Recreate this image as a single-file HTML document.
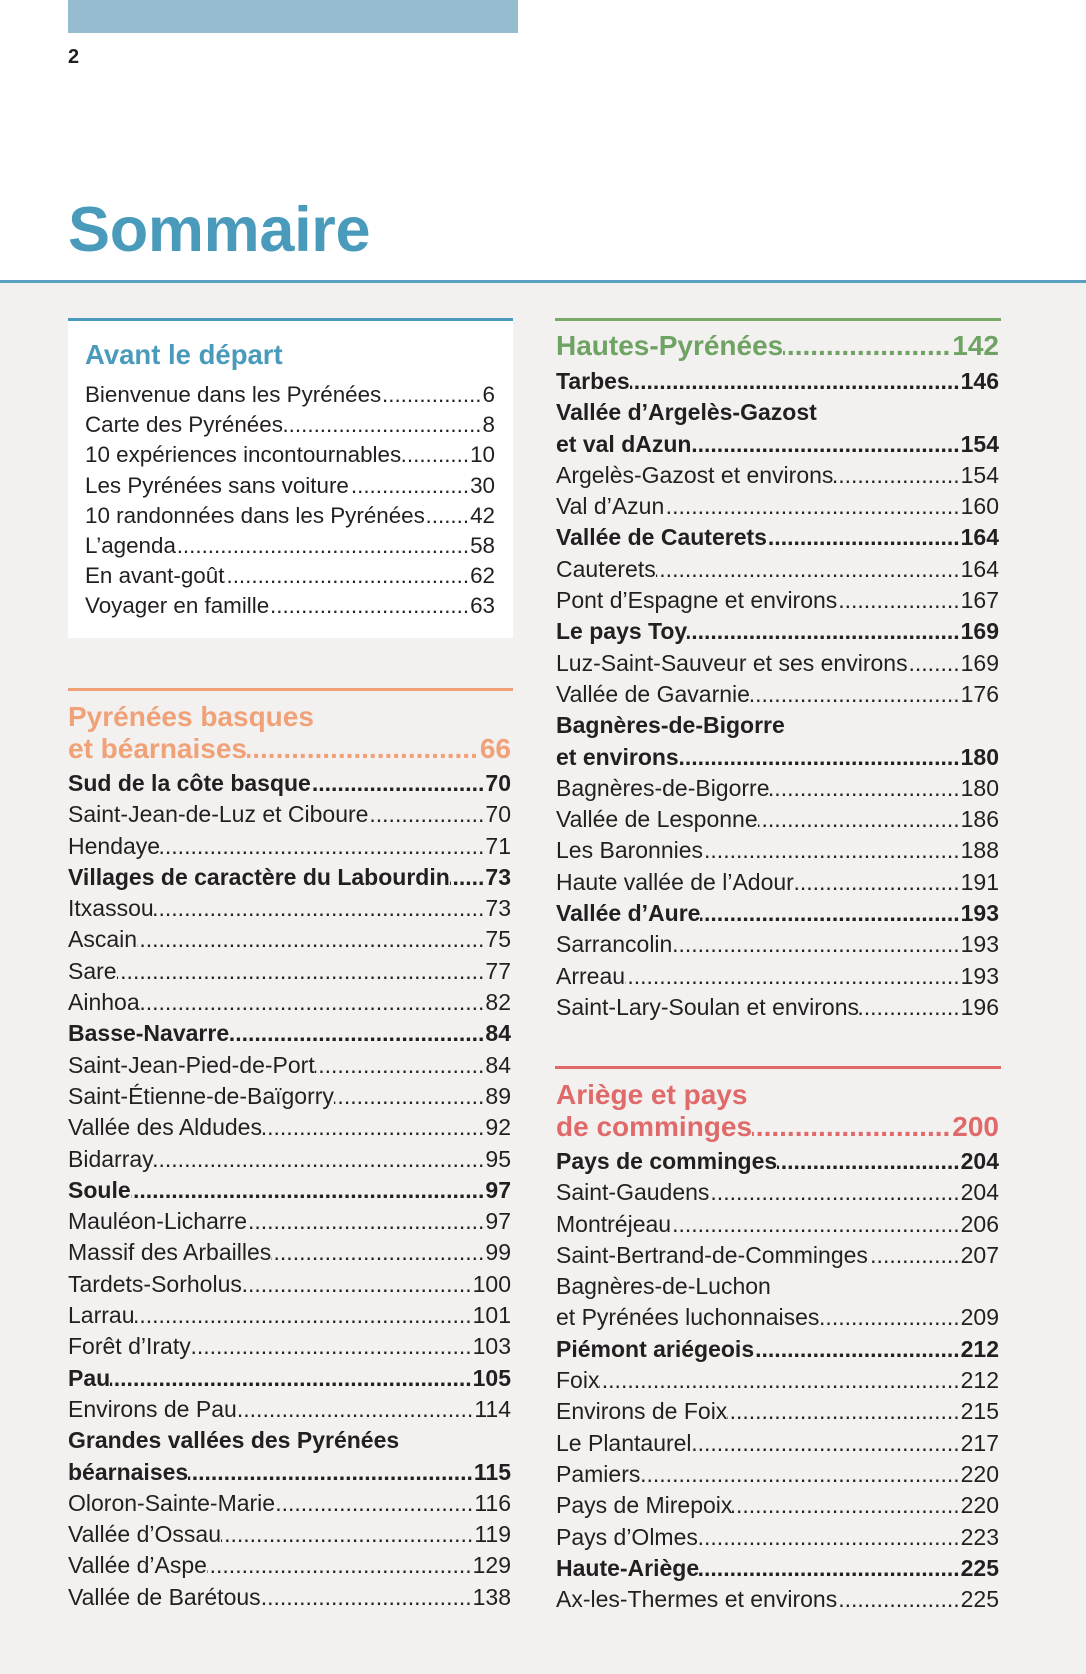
<!DOCTYPE html>
<html><head><meta charset="utf-8"><style>
*{margin:0;padding:0;box-sizing:border-box}
body{width:1086px;height:1674px;position:relative;background:#fff;font-family:"Liberation Sans",sans-serif;color:#231f20;overflow:hidden}
.topbar{position:absolute;left:68px;top:0;width:450px;height:33px;background:#96bcd0}
.pn{position:absolute;left:68px;top:46px;font-size:20px;font-weight:bold}
.title{position:absolute;left:68px;top:194px;font-size:63px;font-weight:bold;color:#4a9bbb;letter-spacing:-0.3px}
.bg{position:absolute;left:0;top:280px;width:1086px;height:1394px;background:#f3f1ef;border-top:3px solid #5a9fc0}
.box{position:absolute;left:68px;top:318px;width:445px;height:320px;background:#fff;border-top:3px solid #4a9bbb}
.rule{position:absolute;height:3px}
.blk{position:absolute}
.row{display:flex;height:31.3px;line-height:31.3px;font-size:23px;white-space:nowrap}
.row .d{flex:1;overflow:hidden;white-space:nowrap;text-align:right;direction:rtl;padding:0 1px}
.row.b{font-weight:bold}
.h{font-weight:bold;font-size:28px;height:32px;line-height:32px;white-space:nowrap}
.hrow{display:flex;font-weight:bold;font-size:28px;height:32px;line-height:32px;white-space:nowrap}
.hrow .d{flex:1;overflow:hidden;direction:rtl;text-align:right;padding:0 2px}
</style></head><body>
<div class="topbar"></div>
<div class="pn">2</div>
<div class="title">Sommaire</div>
<div class="bg"></div>
<div class="box"></div>

<div class="blk" style="left:85px;top:338px;width:410px">
<div class="h" style="color:#4a9bbb;font-size:27.5px;height:34px;line-height:34px">Avant le départ</div>
<div style="margin-top:8px">
<div class="row" style="height:30.2px;line-height:30.2px;font-size:22.4px"><span>Bienvenue dans les Pyrénées</span><span class="d">....................................................................</span><span>6</span></div>
<div class="row" style="height:30.2px;line-height:30.2px;font-size:22.4px"><span>Carte des Pyrénées</span><span class="d">....................................................................</span><span>8</span></div>
<div class="row" style="height:30.2px;line-height:30.2px;font-size:22.4px"><span>10 expériences incontournables</span><span class="d">....................................................................</span><span>10</span></div>
<div class="row" style="height:30.2px;line-height:30.2px;font-size:22.4px"><span>Les Pyrénées sans voiture</span><span class="d">....................................................................</span><span>30</span></div>
<div class="row" style="height:30.2px;line-height:30.2px;font-size:22.4px"><span>10 randonnées dans les Pyrénées</span><span class="d">....................................................................</span><span>42</span></div>
<div class="row" style="height:30.2px;line-height:30.2px;font-size:22.4px"><span>L’agenda</span><span class="d">....................................................................</span><span>58</span></div>
<div class="row" style="height:30.2px;line-height:30.2px;font-size:22.4px"><span>En avant-goût</span><span class="d">....................................................................</span><span>62</span></div>
<div class="row" style="height:30.2px;line-height:30.2px;font-size:22.4px"><span>Voyager en famille</span><span class="d">....................................................................</span><span>63</span></div>
</div></div>

<div class="rule" style="left:68px;top:688px;width:445px;background:#f0a178"></div>
<div class="blk" style="left:68px;top:701px;width:443px">
<div class="h" style="color:#f0a178">Pyrénées basques</div>
<div class="hrow" style="color:#f0a178"><span>et béarnaises</span><span class="d">........................................................</span><span>66</span></div>
<div style="margin-top:3px">
<div class="row b"><span>Sud de la côte basque</span><span class="d">...................................................................</span><span>70</span></div>
<div class="row"><span>Saint-Jean-de-Luz et Ciboure</span><span class="d">...................................................................</span><span>70</span></div>
<div class="row"><span>Hendaye</span><span class="d">...................................................................</span><span>71</span></div>
<div class="row b"><span>Villages de caractère du Labourdin</span><span class="d">...................................................................</span><span>73</span></div>
<div class="row"><span>Itxassou</span><span class="d">...................................................................</span><span>73</span></div>
<div class="row"><span>Ascain</span><span class="d">...................................................................</span><span>75</span></div>
<div class="row"><span>Sare</span><span class="d">...................................................................</span><span>77</span></div>
<div class="row"><span>Ainhoa</span><span class="d">...................................................................</span><span>82</span></div>
<div class="row b"><span>Basse-Navarre</span><span class="d">...................................................................</span><span>84</span></div>
<div class="row"><span>Saint-Jean-Pied-de-Port</span><span class="d">...................................................................</span><span>84</span></div>
<div class="row"><span>Saint-Étienne-de-Baïgorry</span><span class="d">...................................................................</span><span>89</span></div>
<div class="row"><span>Vallée des Aldudes</span><span class="d">...................................................................</span><span>92</span></div>
<div class="row"><span>Bidarray</span><span class="d">...................................................................</span><span>95</span></div>
<div class="row b"><span>Soule</span><span class="d">...................................................................</span><span>97</span></div>
<div class="row"><span>Mauléon-Licharre</span><span class="d">...................................................................</span><span>97</span></div>
<div class="row"><span>Massif des Arbailles</span><span class="d">...................................................................</span><span>99</span></div>
<div class="row"><span>Tardets-Sorholus</span><span class="d">...................................................................</span><span>100</span></div>
<div class="row"><span>Larrau</span><span class="d">...................................................................</span><span>101</span></div>
<div class="row"><span>Forêt d’Iraty</span><span class="d">...................................................................</span><span>103</span></div>
<div class="row b"><span>Pau</span><span class="d">...................................................................</span><span>105</span></div>
<div class="row"><span>Environs de Pau</span><span class="d">...................................................................</span><span>114</span></div>
<div class="row b"><span>Grandes vallées des Pyrénées</span></div>
<div class="row b"><span>béarnaises</span><span class="d">...................................................................</span><span>115</span></div>
<div class="row"><span>Oloron-Sainte-Marie</span><span class="d">...................................................................</span><span>116</span></div>
<div class="row"><span>Vallée d’Ossau</span><span class="d">...................................................................</span><span>119</span></div>
<div class="row"><span>Vallée d’Aspe</span><span class="d">...................................................................</span><span>129</span></div>
<div class="row"><span>Vallée de Barétous</span><span class="d">...................................................................</span><span>138</span></div>
</div></div>

<div class="rule" style="left:555px;top:318px;width:446px;background:#78a86a"></div>
<div class="blk" style="left:556px;top:330px;width:443px">
<div class="hrow" style="color:#6fa364"><span>Hautes-Pyrénées</span><span class="d">........................................................</span><span>142</span></div>
<div style="margin-top:4px">
<div class="row b"><span>Tarbes</span><span class="d">...................................................................</span><span>146</span></div>
<div class="row b"><span>Vallée d’Argelès-Gazost</span></div>
<div class="row b"><span>et val dAzun</span><span class="d">...................................................................</span><span>154</span></div>
<div class="row"><span>Argelès-Gazost et environs</span><span class="d">...................................................................</span><span>154</span></div>
<div class="row"><span>Val d’Azun</span><span class="d">...................................................................</span><span>160</span></div>
<div class="row b"><span>Vallée de Cauterets</span><span class="d">...................................................................</span><span>164</span></div>
<div class="row"><span>Cauterets</span><span class="d">...................................................................</span><span>164</span></div>
<div class="row"><span>Pont d’Espagne et environs</span><span class="d">...................................................................</span><span>167</span></div>
<div class="row b"><span>Le pays Toy</span><span class="d">...................................................................</span><span>169</span></div>
<div class="row"><span>Luz-Saint-Sauveur et ses environs</span><span class="d">...................................................................</span><span>169</span></div>
<div class="row"><span>Vallée de Gavarnie</span><span class="d">...................................................................</span><span>176</span></div>
<div class="row b"><span>Bagnères-de-Bigorre</span></div>
<div class="row b"><span>et environs</span><span class="d">...................................................................</span><span>180</span></div>
<div class="row"><span>Bagnères-de-Bigorre</span><span class="d">...................................................................</span><span>180</span></div>
<div class="row"><span>Vallée de Lesponne</span><span class="d">...................................................................</span><span>186</span></div>
<div class="row"><span>Les Baronnies</span><span class="d">...................................................................</span><span>188</span></div>
<div class="row"><span>Haute vallée de l’Adour</span><span class="d">...................................................................</span><span>191</span></div>
<div class="row b"><span>Vallée d’Aure</span><span class="d">...................................................................</span><span>193</span></div>
<div class="row"><span>Sarrancolin</span><span class="d">...................................................................</span><span>193</span></div>
<div class="row"><span>Arreau</span><span class="d">...................................................................</span><span>193</span></div>
<div class="row"><span>Saint-Lary-Soulan et environs</span><span class="d">...................................................................</span><span>196</span></div>
</div></div>

<div class="rule" style="left:555px;top:1066px;width:446px;background:#e06a6a"></div>
<div class="blk" style="left:556px;top:1079px;width:443px">
<div class="h" style="color:#e06a6a">Ariège et pays</div>
<div class="hrow" style="color:#e06a6a"><span>de comminges</span><span class="d">........................................................</span><span>200</span></div>
<div style="margin-top:3px">
<div class="row b"><span>Pays de comminges</span><span class="d">...................................................................</span><span>204</span></div>
<div class="row"><span>Saint-Gaudens</span><span class="d">...................................................................</span><span>204</span></div>
<div class="row"><span>Montréjeau</span><span class="d">...................................................................</span><span>206</span></div>
<div class="row"><span>Saint-Bertrand-de-Comminges</span><span class="d">...................................................................</span><span>207</span></div>
<div class="row"><span>Bagnères-de-Luchon</span></div>
<div class="row"><span>et Pyrénées luchonnaises</span><span class="d">...................................................................</span><span>209</span></div>
<div class="row b"><span>Piémont ariégeois</span><span class="d">...................................................................</span><span>212</span></div>
<div class="row"><span>Foix</span><span class="d">...................................................................</span><span>212</span></div>
<div class="row"><span>Environs de Foix</span><span class="d">...................................................................</span><span>215</span></div>
<div class="row"><span>Le Plantaurel</span><span class="d">...................................................................</span><span>217</span></div>
<div class="row"><span>Pamiers</span><span class="d">...................................................................</span><span>220</span></div>
<div class="row"><span>Pays de Mirepoix</span><span class="d">...................................................................</span><span>220</span></div>
<div class="row"><span>Pays d’Olmes</span><span class="d">...................................................................</span><span>223</span></div>
<div class="row b"><span>Haute-Ariège</span><span class="d">...................................................................</span><span>225</span></div>
<div class="row"><span>Ax-les-Thermes et environs</span><span class="d">...................................................................</span><span>225</span></div>
</div></div>
</body></html>
